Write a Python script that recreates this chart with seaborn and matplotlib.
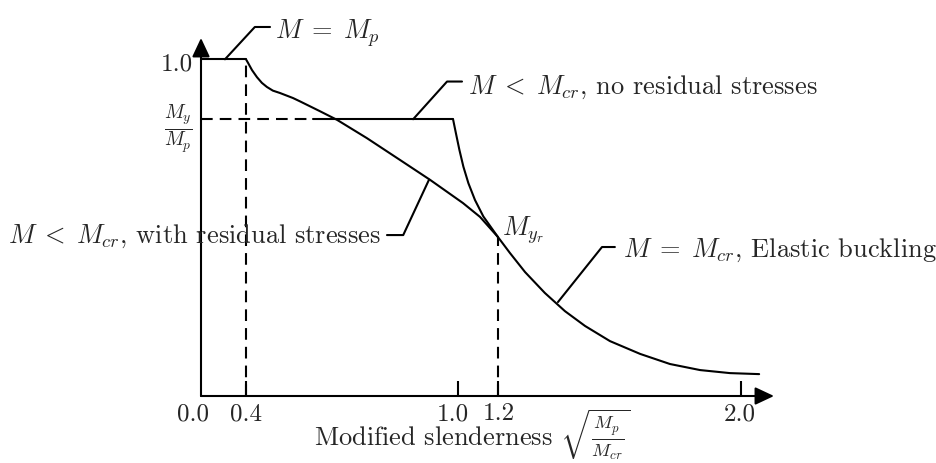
import numpy as np
import pandas as pd
import matplotlib
matplotlib.use("Agg")
import matplotlib.pyplot as plt
from matplotlib.transforms import ScaledTranslation
import seaborn as sns

# ---- data -------------------------------------------------------------
# slenderness ticks on the horizontal axis
tick_values = [0.0, 0.4, 1.0, 1.2, 2.0]
tick_labels = ["0.0", "0.4", "1.0", "1.2", "2.0"]

# normalised moment levels M / M_p
m_plastic = 1.0
m_yield = 0.822          # M_y / M_p
m_yield_residual = 0.472  # M_yr / M_p

lam_plastic_end = 0.4
lam_yield_residual = 1.2
lam_plateau_start = 0.59
lam_plateau_end = 0.986

# inelastic curve with residual stresses
res_lam = [0.400, 0.406, 0.417, 0.431, 0.445, 0.459, 0.476, 0.496, 0.533,
           0.553, 0.609, 0.658, 0.742, 0.836, 0.921, 1.025, 1.110, 1.200]
res_m = [1.000, 0.989, 0.968, 0.947, 0.930, 0.918, 0.907, 0.900, 0.885,
         0.875, 0.846, 0.820, 0.766, 0.701, 0.642, 0.573, 0.532, 0.472]

# elastic buckling curve M = M_cr
ela_lam = [0.986, 0.994, 1.007, 1.027, 1.052, 1.085, 1.127, 1.200, 1.239,
           1.289, 1.354, 1.420, 1.486, 1.568, 1.667, 1.765, 1.864, 1.962, 2.058]
ela_m = [0.822, 0.781, 0.731, 0.681, 0.632, 0.582, 0.533, 0.472, 0.425,
         0.368, 0.306, 0.252, 0.208, 0.163, 0.125, 0.095, 0.077, 0.068, 0.065]

# ---- schematic (non-uniform) slenderness axis ---------------------------
_knot_lam = np.array([-1.0, 0.0, 0.4, 1.0, 1.2, 2.0, 3.0])
_knot_pos = np.array([-112.5, 0.0, 45.0, 257.0, 297.0, 540.5, 844.875])


def fwd(x):
    return np.interp(np.asarray(x, float), _knot_lam, _knot_pos)


def inv(p):
    return np.interp(np.asarray(p, float), _knot_pos, _knot_lam)


# ---- style --------------------------------------------------------------
sns.set_theme(style="white")
plt.rcParams.update({
    "font.family": "serif",
    "font.serif": ["cmr10"],
    "mathtext.fontset": "cm",
    "axes.unicode_minus": False,
    "axes.formatter.use_mathtext": True,
})
FS_TICK = 18
FS_LABEL = 19
FS_NOTE = 19
LW = 1.5
INK = "black"
DASH = (0, (5.6, 3.4))

fig = plt.figure(figsize=(9.36, 4.63), dpi=100)
ax = fig.add_axes([201 / 936, (463 - 396) / 463, (774 - 201) / 936, (396 - 38) / 463])

# curves
curves = pd.concat([
    pd.DataFrame({"lam": [0.0, lam_plastic_end], "m": [m_plastic, m_plastic], "curve": "plastic"}),
    pd.DataFrame({"lam": res_lam, "m": res_m, "curve": "residual"}),
    pd.DataFrame({"lam": [lam_plateau_start, lam_plateau_end], "m": [m_yield, m_yield], "curve": "plateau"}),
    pd.DataFrame({"lam": ela_lam, "m": ela_m, "curve": "elastic"}),
])
for name, part in curves.groupby("curve", sort=False):
    sns.lineplot(data=part, x="lam", y="m", sort=False, estimator=None,
                 color=INK, lw=LW, ax=ax, legend=False)

# dashed guide lines
ax.plot([0.0, lam_plateau_start], [m_yield, m_yield], color=INK, lw=LW, ls=DASH)
ax.plot([lam_plastic_end, lam_plastic_end], [0.0, m_plastic], color=INK, lw=LW, ls=DASH)
ax.plot([lam_yield_residual, lam_yield_residual], [0.0, m_yield_residual], color=INK, lw=LW, ls=DASH)

ax.set_xscale("function", functions=(fwd, inv))
ax.set_xlim(0.0, 2.1068)
ax.set_ylim(0.0, 1.0633)
ax.set_ylabel("")

# axes with arrow heads
for sp in ax.spines.values():
    sp.set_visible(False)
arrow = dict(arrowstyle="-|>,head_length=1.15,head_width=0.54", mutation_scale=10,
             lw=LW, color=INK, shrinkA=0, shrinkB=0)
ax.annotate("", xy=(1, 0), xytext=(0, 0), xycoords="axes fraction",
            textcoords="axes fraction", arrowprops=arrow, annotation_clip=False)
ax.annotate("", xy=(0, 1), xytext=(0, 0), xycoords="axes fraction",
            textcoords="axes fraction", arrowprops=arrow, annotation_clip=False)

# ticks
ax.set_xticks(tick_values)
ax.set_xticklabels(tick_labels, fontsize=FS_TICK)
ax.tick_params(axis="x", direction="in", length=10.8, width=LW, color=INK, pad=5,
               bottom=True)
ax.xaxis.get_major_ticks()[0].tick1line.set_visible(False)
offsets = [-8, 0, -5, 1, -2]
for lab, dx in zip(ax.get_xticklabels(), offsets):
    lab.set_transform(lab.get_transform() + ScaledTranslation(dx / 100, 0, fig.dpi_scale_trans))

ax.set_yticks([m_plastic, m_yield])
ax.set_yticklabels(["1.0", r"$\frac{M_y}{M_p}$"])
ax.tick_params(axis="y", length=0, pad=6)
ylabs = ax.get_yticklabels()
ylabs[0].set_fontsize(FS_TICK)
ylabs[1].set_fontsize(20)
for lab, dy in zip(ylabs, [-3, 0]):
    lab.set_transform(lab.get_transform() + ScaledTranslation(0, dy / 100, fig.dpi_scale_trans))
ax.grid(False)

ax.set_xlabel(r"Modified slenderness $\sqrt{\frac{M_p}{M_{cr}}}$", fontsize=FS_LABEL)
ax.xaxis.label.set_va("bottom")
ax.xaxis.set_label_coords(0.473, -(462 - 396) / 358)

# annotations with leader lines
def leader(pts, text, tx, ty, ha="left"):
    xs, ys = zip(*pts)
    ax.plot(xs, ys, color=INK, lw=LW, clip_on=False)
    ax.text(tx, ty, text, fontsize=FS_NOTE, ha=ha, va="baseline", clip_on=False)


leader([(0.213, 1.0), (0.425, 1.096), (0.468, 1.096)], r"$M \;=\; M_p$", 0.481, 1.062)
leader([(0.873, m_yield), (0.969, 0.934), (1.020, 0.934)],
       r"$M \;<\; M_{cr}$, no residual stresses", 1.050, 0.899)
leader([(0.918, 0.6425), (0.845, 0.478), (0.799, 0.478)],
       r"$M \;<\; M_{cr}$, with residual stresses", 0.782, 0.4535, ha="right")
leader([(1.397, 0.279), (1.5417, 0.4425), (1.584, 0.4425)],
       r"$M \;=\; M_{cr}$, Elastic buckling", 1.611, 0.4137)

ax.text(1.213, 0.478, r"$M_{y_r}$", fontsize=FS_NOTE, ha="left", va="baseline")

fig.savefig("out.png", dpi=100)
